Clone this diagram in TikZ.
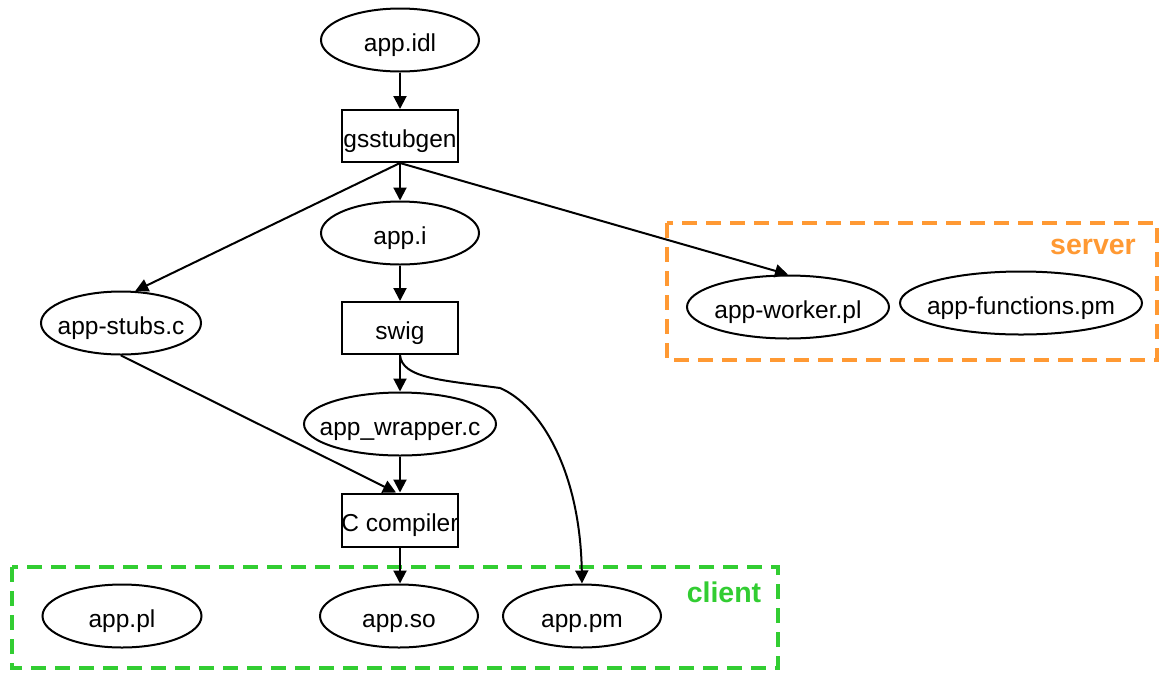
\documentclass[tikz,border=0pt]{standalone}
\usepackage{fontspec}
\setmainfont{Liberation Sans}
\usetikzlibrary{shapes.geometric,arrows.meta}
\definecolor{servercol}{RGB}{255,153,51}
\definecolor{clientcol}{RGB}{50,205,50}
% label of zero size, so the shape size comes only from minimum width/height
\newcommand{\ntext}[1]{\makebox[0pt]{\raisebox{-0.48em}[0pt][0pt]{#1}}}
\tikzset{
  file/.style={ellipse, draw, line width=2pt, inner sep=0pt, minimum height=63pt,
    font=\fontsize{24.5}{28}\selectfont},
  tool/.style={rectangle, draw, line width=2pt, inner sep=0pt, minimum width=116pt,
    minimum height=52pt, font=\fontsize{24.5}{28}\selectfont},
  flow/.style={line width=2pt, -{Triangle[length=13pt,width=13pt]}},
  cluster/.style={line width=4pt, dash pattern=on 15pt off 9pt},
  clusterlabel/.style={font=\fontsize{28.5}{32}\selectfont\bfseries, inner sep=0pt}
}
\begin{document}
\begin{tikzpicture}[x=1pt,y=-1pt]
\useasboundingbox (0,0) rectangle (1159,673);

% clusters
\draw[cluster, servercol] (667,223) rectangle (1157,360);
\node[clusterlabel, text=servercol, anchor=east] (serverlbl) at (1136,247) {server};
\draw[cluster, clientcol] (12,567) rectangle (778,668);
\node[clusterlabel, text=clientcol] (clientlbl) at (724,592) {client};

% build chain
\node[file, minimum width=158pt] (idl) at (400,40) {\ntext{app.idl}};
\node[tool] (gs) at (400,136) {\ntext{gsstubgen}};
\node[file, minimum width=158pt] (appi) at (400,233) {\ntext{app.i}};
\node[file, minimum width=160pt] (stubs) at (121,323) {\ntext{app-stubs.c}};
\node[tool] (swig) at (400,328) {\ntext{swig}};
\node[file, minimum width=192pt] (wrap) at (400,424) {\ntext{app\_wrapper.c}};
\node[tool, minimum height=53pt] (cc) at (400,520) {\ntext{C compiler}};

% client side
\node[file, minimum width=159pt] (pl) at (122,616) {\ntext{app.pl}};
\node[file, minimum width=158pt] (so) at (399,616) {\ntext{app.so}};
\node[file, minimum width=158pt] (pm) at (582,616) {\ntext{app.pm}};

% server side
\node[file, minimum width=202pt] (worker) at (788,307) {\ntext{app-worker.pl}};
\node[file, minimum width=242pt] (funcs) at (1021,303) {\ntext{app-functions.pm}};

% edges
\draw[flow] (idl) -- (gs);
\draw[flow] (gs) -- (appi);
\draw[flow] (gs.south) -- (stubs.66);
\draw[flow] (gs.south) -- (worker.north);
\draw[flow] (appi) -- (swig);
\draw[flow] (swig) -- (wrap);
\draw[flow] (swig.south) .. controls (402,378) and (440,380) .. (500,388)
  .. controls (540,405) and (580,470) .. (pm.north);
\draw[flow] (stubs.south) -- ([xshift=-4pt]cc.north);
\draw[flow] (wrap) -- (cc);
\draw[flow] (cc.south) -- (cc.south |- so.north);
\end{tikzpicture}
\end{document}
